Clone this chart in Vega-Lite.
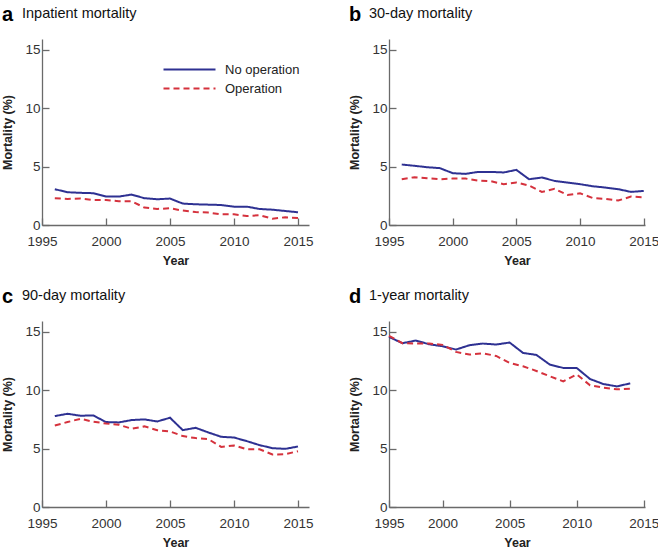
{
  "$schema": "https://vega.github.io/schema/vega-lite/v6.json",
  "padding": {"left": 1, "top": 4, "right": 2, "bottom": 0},
  "background": "white",
  "config": {
    "view": {"stroke": null},
    "font": "Liberation Sans",
    "axis": {"grid": false, "domainColor": "#6a6a6a", "tickColor": "#6a6a6a", "domainWidth": 1.3, "tickWidth": 1.3, "tickSize": -7, "labelColor": "#333333", "labelFont": "Liberation Sans", "labelFontSize": 13.5, "titleFont": "Liberation Sans", "titleFontSize": 12.5, "titleFontWeight": "bold", "titleColor": "#222222"},
    "axisX": {"labelPadding": 16, "titlePadding": 7, "labelFlush": false},
    "axisY": {"labelPadding": 9, "titlePadding": 10}
  },
  "datasets": {
    "mort": [
      {"p":"a","year":1996,"group":"No operation","value":3.06},{"p":"a","year":1997,"group":"No operation","value":2.8},{"p":"a","year":1998,"group":"No operation","value":2.75},{"p":"a","year":1999,"group":"No operation","value":2.72},{"p":"a","year":2000,"group":"No operation","value":2.43},{"p":"a","year":2001,"group":"No operation","value":2.43},{"p":"a","year":2002,"group":"No operation","value":2.6},{"p":"a","year":2003,"group":"No operation","value":2.29},{"p":"a","year":2004,"group":"No operation","value":2.2},{"p":"a","year":2005,"group":"No operation","value":2.26},{"p":"a","year":2006,"group":"No operation","value":1.83},{"p":"a","year":2007,"group":"No operation","value":1.77},{"p":"a","year":2008,"group":"No operation","value":1.74},{"p":"a","year":2009,"group":"No operation","value":1.71},{"p":"a","year":2010,"group":"No operation","value":1.57},{"p":"a","year":2011,"group":"No operation","value":1.57},{"p":"a","year":2012,"group":"No operation","value":1.37},{"p":"a","year":2013,"group":"No operation","value":1.31},{"p":"a","year":2014,"group":"No operation","value":1.2},{"p":"a","year":2015,"group":"No operation","value":1.09},
      {"p":"a","year":1996,"group":"Operation","value":2.29},{"p":"a","year":1997,"group":"Operation","value":2.23},{"p":"a","year":1998,"group":"Operation","value":2.26},{"p":"a","year":1999,"group":"Operation","value":2.14},{"p":"a","year":2000,"group":"Operation","value":2.14},{"p":"a","year":2001,"group":"Operation","value":2.03},{"p":"a","year":2002,"group":"Operation","value":2.03},{"p":"a","year":2003,"group":"Operation","value":1.49},{"p":"a","year":2004,"group":"Operation","value":1.37},{"p":"a","year":2005,"group":"Operation","value":1.43},{"p":"a","year":2006,"group":"Operation","value":1.23},{"p":"a","year":2007,"group":"Operation","value":1.11},{"p":"a","year":2008,"group":"Operation","value":1.06},{"p":"a","year":2009,"group":"Operation","value":0.91},{"p":"a","year":2010,"group":"Operation","value":0.91},{"p":"a","year":2011,"group":"Operation","value":0.77},{"p":"a","year":2012,"group":"Operation","value":0.83},{"p":"a","year":2013,"group":"Operation","value":0.54},{"p":"a","year":2014,"group":"Operation","value":0.66},{"p":"a","year":2015,"group":"Operation","value":0.6},
      {"p":"b","year":1996,"group":"No operation","value":5.17},{"p":"b","year":1997,"group":"No operation","value":5.06},{"p":"b","year":1998,"group":"No operation","value":4.94},{"p":"b","year":1999,"group":"No operation","value":4.86},{"p":"b","year":2000,"group":"No operation","value":4.43},{"p":"b","year":2001,"group":"No operation","value":4.37},{"p":"b","year":2002,"group":"No operation","value":4.54},{"p":"b","year":2003,"group":"No operation","value":4.54},{"p":"b","year":2004,"group":"No operation","value":4.49},{"p":"b","year":2005,"group":"No operation","value":4.71},{"p":"b","year":2006,"group":"No operation","value":3.91},{"p":"b","year":2007,"group":"No operation","value":4.06},{"p":"b","year":2008,"group":"No operation","value":3.77},{"p":"b","year":2009,"group":"No operation","value":3.63},{"p":"b","year":2010,"group":"No operation","value":3.49},{"p":"b","year":2011,"group":"No operation","value":3.31},{"p":"b","year":2012,"group":"No operation","value":3.2},{"p":"b","year":2013,"group":"No operation","value":3.06},{"p":"b","year":2014,"group":"No operation","value":2.83},{"p":"b","year":2015,"group":"No operation","value":2.91},
      {"p":"b","year":1996,"group":"Operation","value":3.91},{"p":"b","year":1997,"group":"Operation","value":4.09},{"p":"b","year":1998,"group":"Operation","value":4.0},{"p":"b","year":1999,"group":"Operation","value":3.91},{"p":"b","year":2000,"group":"Operation","value":3.97},{"p":"b","year":2001,"group":"Operation","value":3.97},{"p":"b","year":2002,"group":"Operation","value":3.8},{"p":"b","year":2003,"group":"Operation","value":3.74},{"p":"b","year":2004,"group":"Operation","value":3.49},{"p":"b","year":2005,"group":"Operation","value":3.63},{"p":"b","year":2006,"group":"Operation","value":3.37},{"p":"b","year":2007,"group":"Operation","value":2.83},{"p":"b","year":2008,"group":"Operation","value":3.09},{"p":"b","year":2009,"group":"Operation","value":2.57},{"p":"b","year":2010,"group":"Operation","value":2.71},{"p":"b","year":2011,"group":"Operation","value":2.31},{"p":"b","year":2012,"group":"Operation","value":2.23},{"p":"b","year":2013,"group":"Operation","value":2.09},{"p":"b","year":2014,"group":"Operation","value":2.43},{"p":"b","year":2015,"group":"Operation","value":2.37},
      {"p":"c","year":1996,"group":"No operation","value":7.77},{"p":"c","year":1997,"group":"No operation","value":7.97},{"p":"c","year":1998,"group":"No operation","value":7.8},{"p":"c","year":1999,"group":"No operation","value":7.83},{"p":"c","year":2000,"group":"No operation","value":7.26},{"p":"c","year":2001,"group":"No operation","value":7.23},{"p":"c","year":2002,"group":"No operation","value":7.43},{"p":"c","year":2003,"group":"No operation","value":7.49},{"p":"c","year":2004,"group":"No operation","value":7.31},{"p":"c","year":2005,"group":"No operation","value":7.63},{"p":"c","year":2006,"group":"No operation","value":6.57},{"p":"c","year":2007,"group":"No operation","value":6.77},{"p":"c","year":2008,"group":"No operation","value":6.37},{"p":"c","year":2009,"group":"No operation","value":6.0},{"p":"c","year":2010,"group":"No operation","value":5.94},{"p":"c","year":2011,"group":"No operation","value":5.63},{"p":"c","year":2012,"group":"No operation","value":5.29},{"p":"c","year":2013,"group":"No operation","value":5.03},{"p":"c","year":2014,"group":"No operation","value":4.97},{"p":"c","year":2015,"group":"No operation","value":5.17},
      {"p":"c","year":1996,"group":"Operation","value":6.97},{"p":"c","year":1997,"group":"Operation","value":7.26},{"p":"c","year":1998,"group":"Operation","value":7.54},{"p":"c","year":1999,"group":"Operation","value":7.29},{"p":"c","year":2000,"group":"Operation","value":7.14},{"p":"c","year":2001,"group":"Operation","value":7.03},{"p":"c","year":2002,"group":"Operation","value":6.69},{"p":"c","year":2003,"group":"Operation","value":6.89},{"p":"c","year":2004,"group":"Operation","value":6.57},{"p":"c","year":2005,"group":"Operation","value":6.46},{"p":"c","year":2006,"group":"Operation","value":6.06},{"p":"c","year":2007,"group":"Operation","value":5.89},{"p":"c","year":2008,"group":"Operation","value":5.8},{"p":"c","year":2009,"group":"Operation","value":5.14},{"p":"c","year":2010,"group":"Operation","value":5.26},{"p":"c","year":2011,"group":"Operation","value":4.94},{"p":"c","year":2012,"group":"Operation","value":4.94},{"p":"c","year":2013,"group":"Operation","value":4.49},{"p":"c","year":2014,"group":"Operation","value":4.51},{"p":"c","year":2015,"group":"Operation","value":4.77},
      {"p":"d","year":1996,"group":"No operation","value":14.54},{"p":"d","year":1997,"group":"No operation","value":14.0},{"p":"d","year":1998,"group":"No operation","value":14.23},{"p":"d","year":1999,"group":"No operation","value":13.91},{"p":"d","year":2000,"group":"No operation","value":13.74},{"p":"d","year":2001,"group":"No operation","value":13.46},{"p":"d","year":2002,"group":"No operation","value":13.83},{"p":"d","year":2003,"group":"No operation","value":13.97},{"p":"d","year":2004,"group":"No operation","value":13.89},{"p":"d","year":2005,"group":"No operation","value":14.06},{"p":"d","year":2006,"group":"No operation","value":13.17},{"p":"d","year":2007,"group":"No operation","value":13.0},{"p":"d","year":2008,"group":"No operation","value":12.17},{"p":"d","year":2009,"group":"No operation","value":11.89},{"p":"d","year":2010,"group":"No operation","value":11.89},{"p":"d","year":2011,"group":"No operation","value":10.94},{"p":"d","year":2012,"group":"No operation","value":10.51},{"p":"d","year":2013,"group":"No operation","value":10.31},{"p":"d","year":2014,"group":"No operation","value":10.57},
      {"p":"d","year":1996,"group":"Operation","value":14.63},{"p":"d","year":1997,"group":"Operation","value":14.0},{"p":"d","year":1998,"group":"Operation","value":13.97},{"p":"d","year":1999,"group":"Operation","value":13.97},{"p":"d","year":2000,"group":"Operation","value":13.86},{"p":"d","year":2001,"group":"Operation","value":13.26},{"p":"d","year":2002,"group":"Operation","value":13.03},{"p":"d","year":2003,"group":"Operation","value":13.14},{"p":"d","year":2004,"group":"Operation","value":12.91},{"p":"d","year":2005,"group":"Operation","value":12.31},{"p":"d","year":2006,"group":"Operation","value":12.03},{"p":"d","year":2007,"group":"Operation","value":11.63},{"p":"d","year":2008,"group":"Operation","value":11.17},{"p":"d","year":2009,"group":"Operation","value":10.74},{"p":"d","year":2010,"group":"Operation","value":11.34},{"p":"d","year":2011,"group":"Operation","value":10.4},{"p":"d","year":2012,"group":"Operation","value":10.2},{"p":"d","year":2013,"group":"Operation","value":10.06},{"p":"d","year":2014,"group":"Operation","value":10.11}
    ]
  },
  "resolve": {"legend": {"color": "independent", "strokeDash": "independent"}},
  "columns": 2,
  "spacing": {"column": 34, "row": 19},
  "concat": [
    {
      "title": {"text": "a", "fontSize": 20, "fontWeight": "bold", "anchor": "start", "frame": "bounds", "color": "#000000", "offset": 0, "dy": 19},
      "resolve": {"legend": {"color": "independent", "strokeDash": "independent"}},
      "vconcat": [{
        "title": {"text": "Inpatient mortality", "fontSize": 14.5, "fontWeight": "normal", "anchor": "start", "frame": "bounds", "color": "#111111", "dx": 20, "offset": 18},
        "width": 267, "height": 186,
        "data": {"name": "mort"},
        "transform": [{"filter": "datum.p === 'a'"}],
        "mark": {"type": "line", "strokeWidth": 2},
        "encoding": {
          "x": {"field": "year", "type": "quantitative", "scale": {"domain": [1995, 2015.86], "nice": false, "zero": false}, "axis": {"values": [1995, 2000, 2005, 2010, 2015], "format": "d", "title": "Year"}},
          "y": {"field": "value", "type": "quantitative", "scale": {"domain": [0, 15.9], "nice": false}, "axis": {"values": [0, 5, 10, 15], "title": "Mortality (%)"}},
          "color": {"field": "group", "type": "nominal", "scale": {"domain": ["No operation", "Operation"], "range": ["#2e3192", "#d5323d"]}, "legend": {"orient": "none", "legendX": 141, "legendY": 24, "title": null, "symbolType": "M-13,0H13", "symbolSize": 16, "symbolStrokeWidth": 2, "labelFontSize": 13, "labelFont": "Liberation Sans", "labelColor": "#222222", "labelOffset": 29, "rowPadding": 5}},
          "strokeDash": {"field": "group", "type": "nominal", "scale": {"domain": ["No operation", "Operation"], "range": [[1, 0], [6, 4]]}, "legend": {"orient": "none", "legendX": 141, "legendY": 24, "title": null, "symbolType": "M-13,0H13", "symbolSize": 16, "symbolStrokeWidth": 2, "labelFontSize": 13, "labelFont": "Liberation Sans", "labelColor": "#222222", "labelOffset": 29, "rowPadding": 5}}
        }
      }]
    },
    {
      "title": {"text": "b", "fontSize": 20, "fontWeight": "bold", "anchor": "start", "frame": "bounds", "color": "#000000", "offset": 0, "dy": 19},
      "vconcat": [{
        "title": {"text": "30-day mortality", "fontSize": 14.5, "fontWeight": "normal", "anchor": "start", "frame": "bounds", "color": "#111111", "dx": 20, "offset": 18},
        "width": 256, "height": 186,
        "data": {"name": "mort"},
        "transform": [{"filter": "datum.p === 'b'"}],
        "mark": {"type": "line", "strokeWidth": 2},
        "encoding": {
          "x": {"field": "year", "type": "quantitative", "scale": {"domain": [1995, 2015.1], "nice": false, "zero": false}, "axis": {"values": [1995, 2000, 2005, 2010, 2015], "format": "d", "title": "Year"}},
          "y": {"field": "value", "type": "quantitative", "scale": {"domain": [0, 15.9], "nice": false}, "axis": {"values": [0, 5, 10, 15], "title": "Mortality (%)"}},
          "color": {"field": "group", "type": "nominal", "scale": {"domain": ["No operation", "Operation"], "range": ["#2e3192", "#d5323d"]}, "legend": null},
          "strokeDash": {"field": "group", "type": "nominal", "scale": {"domain": ["No operation", "Operation"], "range": [[1, 0], [6, 4]]}, "legend": null}
        }
      }]
    },
    {
      "title": {"text": "c", "fontSize": 20, "fontWeight": "bold", "anchor": "start", "frame": "bounds", "color": "#000000", "offset": 0, "dy": 19},
      "vconcat": [{
        "title": {"text": "90-day mortality", "fontSize": 14.5, "fontWeight": "normal", "anchor": "start", "frame": "bounds", "color": "#111111", "dx": 20, "offset": 18},
        "width": 267, "height": 186,
        "data": {"name": "mort"},
        "transform": [{"filter": "datum.p === 'c'"}],
        "mark": {"type": "line", "strokeWidth": 2},
        "encoding": {
          "x": {"field": "year", "type": "quantitative", "scale": {"domain": [1995, 2015.86], "nice": false, "zero": false}, "axis": {"values": [1995, 2000, 2005, 2010, 2015], "format": "d", "title": "Year"}},
          "y": {"field": "value", "type": "quantitative", "scale": {"domain": [0, 15.9], "nice": false}, "axis": {"values": [0, 5, 10, 15], "title": "Mortality (%)"}},
          "color": {"field": "group", "type": "nominal", "scale": {"domain": ["No operation", "Operation"], "range": ["#2e3192", "#d5323d"]}, "legend": null},
          "strokeDash": {"field": "group", "type": "nominal", "scale": {"domain": ["No operation", "Operation"], "range": [[1, 0], [6, 4]]}, "legend": null}
        }
      }]
    },
    {
      "title": {"text": "d", "fontSize": 20, "fontWeight": "bold", "anchor": "start", "frame": "bounds", "color": "#000000", "offset": 0, "dy": 19},
      "vconcat": [{
        "title": {"text": "1-year mortality", "fontSize": 14.5, "fontWeight": "normal", "anchor": "start", "frame": "bounds", "color": "#111111", "dx": 20, "offset": 18},
        "width": 256, "height": 186,
        "data": {"name": "mort"},
        "transform": [{"filter": "datum.p === 'd'"}],
        "mark": {"type": "line", "strokeWidth": 2},
        "encoding": {
          "x": {"field": "year", "type": "quantitative", "scale": {"domain": [1996, 2015.1], "nice": false, "zero": false}, "axis": {"values": [1996, 2000, 2005, 2010, 2015], "format": "d", "labelExpr": "datum.value === 1996 ? '1995' : datum.label", "title": "Year"}},
          "y": {"field": "value", "type": "quantitative", "scale": {"domain": [0, 15.9], "nice": false}, "axis": {"values": [0, 5, 10, 15], "title": "Mortality (%)"}},
          "color": {"field": "group", "type": "nominal", "scale": {"domain": ["No operation", "Operation"], "range": ["#2e3192", "#d5323d"]}, "legend": null},
          "strokeDash": {"field": "group", "type": "nominal", "scale": {"domain": ["No operation", "Operation"], "range": [[1, 0], [6, 4]]}, "legend": null}
        }
      }]
    }
  ]
}
